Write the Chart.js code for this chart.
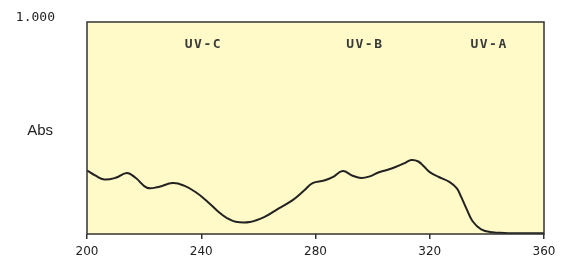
<!DOCTYPE html>
<html><head><meta charset="utf-8">
<script src="https://cdn.jsdelivr.net/npm/chart.js@4/dist/chart.umd.min.js"></script>
<style>html,body{margin:0;padding:0;background:#fff}#wrap{width:565px;height:262px}</style>
</head><body><div id="wrap"><canvas id="c" width="565" height="262"></canvas></div>
<script>
const wavelengths = [200,203,206,210,214,217,221,225,230,234,238,242,246,249,252,257,262,267,272,276,279,283,286,289.5,293,296,299,302,305,308,311,313.5,316,318,320,323,327,329.5,331,333,335,338,342,346,350,355,360];
const absorbance = [0.30,0.275,0.257,0.265,0.288,0.265,0.218,0.222,0.24,0.228,0.198,0.155,0.105,0.075,0.058,0.057,0.08,0.12,0.16,0.205,0.24,0.252,0.268,0.297,0.275,0.264,0.272,0.29,0.302,0.316,0.333,0.349,0.342,0.318,0.292,0.27,0.245,0.215,0.175,0.115,0.06,0.022,0.008,0.005,0.004,0.004,0.004];
const xTicks = [200,240,280,320,360];
const yTickLabel = '1.000';
const yAxisLabel = 'Abs';
const bandLabels = ['UV-C','UV-B','UV-A'];
const bandCenters = [240.5,297,340.5];

const framePlugin = {
  id:'frame',
  beforeDraw(chart){
    const {ctx, chartArea:a} = chart;
    ctx.save();
    ctx.fillStyle = '#fffac8';
    ctx.fillRect(a.left, a.top, a.right-a.left, a.bottom-a.top);
    ctx.restore();
  },
  afterDraw(chart){
    const {ctx, chartArea:a, scales} = chart;
    ctx.save();
    ctx.strokeStyle = '#333';
    ctx.lineWidth = 1.5;
    ctx.strokeRect(a.left, a.top, a.right-a.left, a.bottom-a.top);
    ctx.fillStyle = '#3a3a3a';
    ctx.font = 'bold 13px "DejaVu Sans Mono", monospace';
    ctx.letterSpacing = '1.5px';
    ctx.textAlign = 'center';
    ctx.textBaseline = 'middle';
    bandLabels.forEach((t,i)=>{
      ctx.fillText(t, scales.x.getPixelForValue(bandCenters[i]) + 0.75, a.top + 23);
    });
    ctx.letterSpacing = '0px';
    ctx.fillStyle = '#222';
    ctx.font = '15px "Liberation Sans", Arial, sans-serif';
    ctx.textAlign = 'right';
    ctx.fillText(yAxisLabel, 53, 131);
    ctx.restore();
  }
};

new Chart(document.getElementById('c'), {
  type:'line',
  data:{datasets:[{
    data: wavelengths.map((w,i)=>({x:w,y:absorbance[i]})),
    borderColor:'#222', borderWidth:2, pointRadius:0, tension:0.4, fill:false
  }]},
  options:{
    responsive:false, animation:false,
    layout:{padding:{top:22,right:21,left:0,bottom:0}},
    plugins:{legend:{display:false}, tooltip:{enabled:false}},
    scales:{
      x:{type:'linear', min:200, max:360,
        afterBuildTicks(s){ s.ticks = xTicks.map(v=>({value:v})); },
        afterFit(s){ s.height = 28; s.paddingLeft = 0; s.paddingRight = 0; },
        grid:{drawOnChartArea:false, drawTicks:true, tickLength:5, color:'#333', lineWidth:1.5},
        border:{display:false},
        ticks:{color:'#222', font:{family:'"DejaVu Sans"', size:12}, padding:6, maxRotation:0}
      },
      y:{type:'linear', min:0, max:1,
        afterBuildTicks(s){ s.ticks = [{value:1}]; },
        afterFit(s){ s.width = 87; s.paddingTop = 0; s.paddingBottom = 0; },
        grid:{display:false, drawTicks:false},
        border:{display:false},
        ticks:{color:'#222', font:{family:'"DejaVu Sans Mono"', size:13}, padding:32, labelOffset:-4,
          callback:(v)=> v===1 ? yTickLabel : ''}
      }
    }
  },
  plugins:[framePlugin]
});
</script></body></html>
